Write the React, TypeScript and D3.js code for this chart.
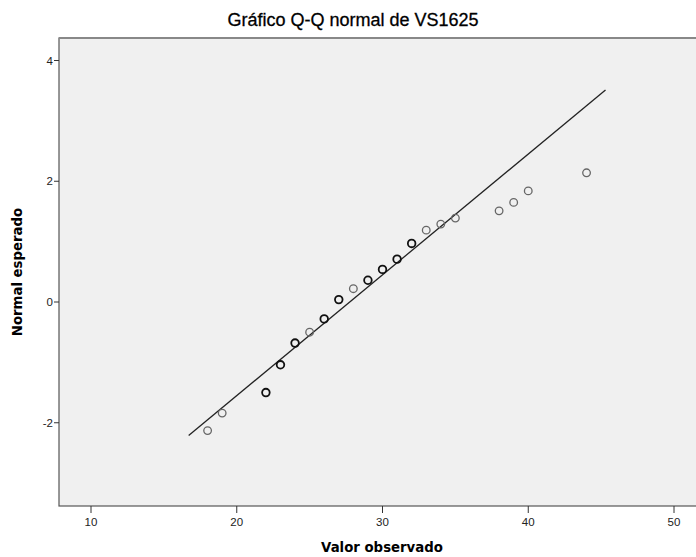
import React from "react";
import * as d3 from "d3";

const observed = [18, 19, 22, 23, 24, 25, 26, 27, 28, 29, 30, 31, 32, 33, 34, 35, 38, 39, 40, 44];
const expected = [-2.13, -1.84, -1.5, -1.04, -0.68, -0.5, -0.28, 0.04, 0.22, 0.36, 0.54, 0.71, 0.97, 1.19, 1.29, 1.39, 1.51, 1.65, 1.84, 2.14];
const repeated = [false, false, true, true, true, false, true, true, false, true, true, true, true, false, false, false, false, false, false, false];
const xTicks = [10, 20, 30, 40, 50];
const yTicks = [-2, 0, 2, 4];
const lineMean = 27.75;
const lineSd = 5.0;
const lineRange = [16.7, 45.3];

export default function App() {
  const W = 696, H = 557;
  const left = 59, top = 38, bottom = 506;
  const x = d3.scaleLinear().domain([10, 50]).range([91, 674]);
  const y = d3.scaleLinear().domain([0, 4]).range([302, 60.5]);
  const right = x(52.5);
  const font = "'Liberation Sans', Arial, sans-serif";
  const boldFont = "'DejaVu Sans', Tahoma, sans-serif";
  const line = d3.line<number>().x((v) => x(v)).y((v) => y((v - lineMean) / lineSd));
  return (
    <svg width={W} height={H} style={{ position: "absolute", left: 0, top: 0, background: "#fff" }} fontFamily={font}>
      <text x={353} y={26} textAnchor="middle" fontSize={18} fill="#000" stroke="#000" strokeWidth={0.3}>Gráfico Q-Q normal de VS1625</text>
      <rect x={left} y={top} width={right - left} height={bottom - top} fill="#f0f0f0" stroke="#555" strokeWidth={1.2} />
      <line x1={left} x2={right} y1={top} y2={top} stroke="#888" strokeWidth={2} />
      {yTicks.map((t) => (
        <g key={t}>
          <line x1={left - 5} x2={left} y1={y(t)} y2={y(t)} stroke="#333" />
          <text x={left - 6} y={y(t) + 4} textAnchor="end" fontSize={11.5} fill="#222">{t}</text>
        </g>
      ))}
      {xTicks.map((t) => (
        <g key={t}>
          <line x1={x(t)} x2={x(t)} y1={bottom} y2={bottom + 7} stroke="#333" />
          <text x={x(t)} y={bottom + 20} textAnchor="middle" fontSize={11.5} fill="#222">{t}</text>
        </g>
      ))}
      <path d={line(lineRange) || ""} stroke="#222" strokeWidth={1.3} fill="none" />
      {observed.map((v, i) => (
        <circle key={i} cx={x(v)} cy={y(expected[i])} r={3.8} fill="none"
          stroke={repeated[i] ? "#111" : "#666"} strokeWidth={repeated[i] ? 1.8 : 1.3} />
      ))}
      <text x={382} y={552} textAnchor="middle" fontSize={13.3} fontWeight="bold" fontFamily={boldFont} fill="#000">Valor observado</text>
      <text transform={`translate(22,${272}) rotate(-90)`} textAnchor="middle" fontSize={13.3} fontWeight="bold" fontFamily={boldFont} fill="#000">Normal esperado</text>
    </svg>
  );
}
